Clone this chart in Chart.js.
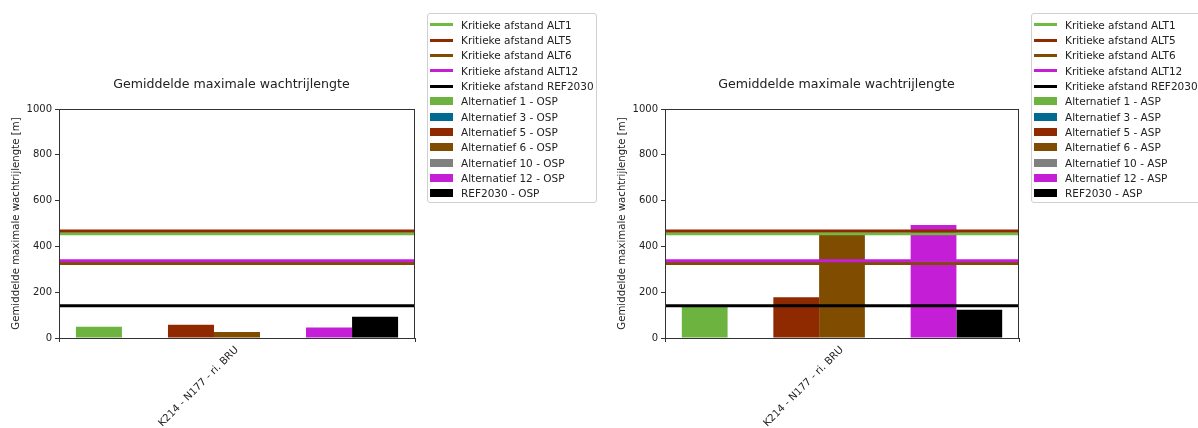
<!DOCTYPE html>
<html>
<head>
<meta charset="utf-8">
<script src="https://cdn.jsdelivr.net/npm/chart.js@4.4.0/dist/chart.umd.min.js"></script>
<style>
  html, body { margin: 0; padding: 0; background: #fff; }
  #wrap { position: relative; width: 1198px; height: 428px; overflow: hidden; background: #fff; }
  canvas { position: absolute; top: 0; }
  .legend {
    position: absolute; box-sizing: border-box;
    width: 170px; height: 190px; padding: 3px 0 0 0;
    border: 1px solid #d0d0d0; border-radius: 3px; background: rgba(255,255,255,0.85);
    font-family: 'DejaVu Sans', sans-serif; font-size: 10.5px; color: #222;
  }
  .row { display: flex; align-items: center; height: 15.35px; white-space: nowrap; }
  .handle { display: inline-block; width: 23px; margin-left: 2px; margin-right: 8px; }
  .handle.line { height: 3px; }
  .handle.patch { height: 8px; }
</style>
</head>
<body>
<div id="wrap">
  <canvas id="chartOSP" width="463" height="428" style="left:0px"></canvas>
  <canvas id="chartASP" width="461" height="428" style="left:606px"></canvas>
  <div class="legend" id="legendOSP" style="left:427px; top:13px"></div>
  <div class="legend" id="legendASP" style="left:1031px; top:13px"></div>
</div>
<script>
// Road section shown on the x axis (one group of bars per section)
const categories = ['K214 - N177 - ri. BRU'];

// Scenario series (bars)
const seriesNames = ['Alternatief 1', 'Alternatief 3', 'Alternatief 5', 'Alternatief 6',
                     'Alternatief 10', 'Alternatief 12', 'REF2030'];
const seriesColors = ['#6cb33f', '#006a92', '#8f2900', '#7f4c00', '#808080', '#c41ed6', '#000000'];
const ospValues = [49, null, 58, 26, null, 46, 93];
const aspValues = [137, null, 178, 451, null, 494, 123];

// Critical distances (horizontal reference lines)
const limitNames = ['Kritieke afstand ALT1', 'Kritieke afstand ALT5', 'Kritieke afstand ALT6',
                    'Kritieke afstand ALT12', 'Kritieke afstand REF2030'];
const limitColors = ['#6fba42', '#8f2900', '#7f4c00', '#c41ed6', '#000000'];
const limitValues = [455, 468, 325, 337, 141];

// Y axis
const yTicks = [0, 200, 400, 600, 800, 1000];
const yTitle = 'Gemiddelde maximale wachtrijlengte [m]';
const chartTitle = 'Gemiddelde maximale wachtrijlengte';

const FONT = "'DejaVu Sans', sans-serif";
const INK = '#222';
const AXIS = '#333';

// Closed box around the plotting area
const framePlugin = {
  id: 'frame',
  afterDatasetsDraw(chart) {
    const a = chart.chartArea, ctx = chart.ctx;
    ctx.save();
    ctx.strokeStyle = AXIS;
    ctx.lineWidth = 1;
    ctx.strokeRect(Math.round(a.left) + 0.5, Math.round(a.top) + 0.5,
                   Math.round(a.right - a.left) - 1, Math.round(a.bottom - a.top));
    ctx.restore();
  }
};

function buildDatasets(values) {
  const sets = [];
  // The first dataset is painted on top, so the reference lines go first
  // (REF2030 topmost), the bars last.
  for (let i = limitNames.length - 1; i >= 0; i--) {
    sets.push({
      type: 'line', label: limitNames[i],
      // a category slot spans index-0.5 .. index+0.5
      data: [{ x: -0.5, y: limitValues[i] }, { x: categories.length - 0.5, y: limitValues[i] }],
      borderColor: limitColors[i], backgroundColor: limitColors[i],
      borderWidth: 3, pointRadius: 0, fill: false, tension: 0
    });
  }
  seriesNames.forEach((name, i) => {
    sets.push({
      type: 'bar', label: name,
      data: categories.map((c, k) => ({ x: k, y: values[i] })),
      backgroundColor: seriesColors[i], borderWidth: 0,
      barPercentage: 1.0, categoryPercentage: 0.905
    });
  });
  return sets;
}

function makeChart(canvasId, values) {
  return new Chart(document.getElementById(canvasId), {
    type: 'bar',
    data: { datasets: buildDatasets(values) },
    options: {
      responsive: false,
      animation: false,
      layout: { padding: 0 },
      plugins: {
        legend: { display: false },
        tooltip: { enabled: false },
        title: {
          display: true, text: chartTitle, color: INK,
          font: { family: FONT, size: 12.6, weight: 'normal', lineHeight: 1.2 },
          padding: { top: 77, bottom: 17 }
        }
      },
      scales: {
        x: {
          type: 'linear', position: 'bottom', offset: false,
          min: -0.5, max: categories.length - 0.5,
          grid: { drawOnChartArea: false, drawTicks: true, tickLength: 4, color: AXIS },
          border: { display: false },
          afterBuildTicks(s) { s.ticks = categories.map((c, k) => ({ value: k })); },
          ticks: { minRotation: 45, maxRotation: 45, autoSkip: false, padding: 2,
                   color: INK, font: { family: FONT, size: 10.2 },
                   callback: v => categories[Math.round(v)] },
          afterFit(s) { s.height = 90; }
        },
        y: {
          type: 'linear', position: 'left', min: 0, max: 1000,
          grid: { drawOnChartArea: false, drawTicks: true, tickLength: 4, color: AXIS },
          border: { display: false },
          ticks: { padding: 3, color: INK, font: { family: FONT, size: 10 },
                   callback: v => String(v) },
          afterBuildTicks(s) { s.ticks = yTicks.map(v => ({ value: v })); },
          title: { display: true, text: yTitle, color: INK,
                   font: { family: FONT, size: 10.2 }, padding: { top: 10, bottom: 0 } },
          afterFit(s) { s.width = 59; }
        },
        yR: {
          type: 'linear', position: 'right', display: true,
          grid: { display: false }, border: { display: false }, ticks: { display: false },
          afterFit(s) { s.width = 48; }
        }
      }
    },
    plugins: [framePlugin]
  });
}

function buildLegend(elId, suffix) {
  const el = document.getElementById(elId);
  let html = '';
  limitNames.forEach((name, i) => {
    html += `<div class="row"><span class="handle line" style="background:${limitColors[i]}"></span>${name}</div>`;
  });
  seriesNames.forEach((name, i) => {
    html += `<div class="row"><span class="handle patch" style="background:${seriesColors[i]}"></span>${name} - ${suffix}</div>`;
  });
  el.innerHTML = html;
}

makeChart('chartOSP', ospValues);
makeChart('chartASP', aspValues);
buildLegend('legendOSP', 'OSP');
buildLegend('legendASP', 'ASP');
</script>
</body>
</html>
